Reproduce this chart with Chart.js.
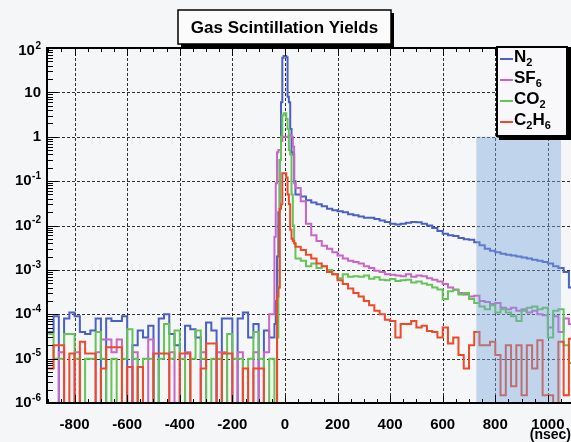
<!DOCTYPE html>
<html>
<head>
<meta charset="utf-8">
<script src="https://cdn.jsdelivr.net/npm/chart.js@4.4.0/dist/chart.umd.min.js"></script>
<style>
  html, body { margin: 0; padding: 0; background: #f5f6f8; overflow: hidden; }
</style>
</head>
<body>
<canvas id="myChart" width="571" height="442"></canvas>
<script>
// bin left edges (nsec)
const preBins = [-900, -880, -860, -840, -820, -800, -780, -760, -740, -720,
  -700, -680, -660, -640, -620, -600, -580, -560, -540, -520,
  -500, -480, -460, -440, -420, -400, -380, -360, -340, -320,
  -300, -280, -260, -240, -220, -200, -180, -160, -140, -120,
  -100, -80, -60];
const peakBins = [-40, -35, -30, -25, -20, -15, -10, -5, 0, 5, 10, 15, 20, 25, 30, 35];
const tailBins = [40, 60, 80, 100, 120, 140, 160, 180, 200, 220,
  240, 260, 280, 300, 320, 340, 360, 380, 400, 420,
  440, 460, 480, 500, 520, 540, 560, 580, 600, 620,
  640, 660, 680, 700, 720, 740, 760, 780, 800, 820,
  840, 860, 880, 900, 920, 940, 960, 980, 1000, 1020,
  1040, 1060, 1080];
const lastEdge = 1100;

// N2
const n2Pre = [4e-5, 9e-5, 0, 8e-5, 1.1e-4, 9e-5, 4e-5, 3.6e-5, 4.3e-5, 8e-5,
  0, 8e-5, 7e-5, 7e-5, 9e-5, 0, 2e-5, 4.3e-5, 3e-5, 5.5e-5,
  0, 8e-5, 1e-4, 3.6e-5, 2e-5, 0, 5.5e-5, 4.6e-5, 3e-5, 0,
  6.5e-5, 4.3e-5, 0, 8e-5, 8e-5, 0, 8e-5, 1.1e-4, 3e-5, 6e-5,
  0, 4.3e-5, 3e-5];
const n2Peak = [6e-5, 2e-4, 0.002, 0.02, 0.3, 6, 60, 66, 66, 62, 8, 6, 1.5, 0.45, 0.4, 0.1];
const n2Tail = [0.05, 0.045, 0.037, 0.033, 0.03, 0.027, 0.024, 0.022, 0.021, 0.02,
  0.018, 0.017, 0.016, 0.015, 0.015, 0.014, 0.013, 0.012, 0.011, 0.0105,
  0.011, 0.0115, 0.012, 0.0118, 0.011, 0.01, 0.0088, 0.0075, 0.0065, 0.006,
  0.0058, 0.0052, 0.0049, 0.0048, 0.0042, 0.0036, 0.003, 0.0027, 0.0025, 0.0023,
  0.0022, 0.0021, 0.002, 0.0019, 0.0018, 0.0017, 0.0016, 0.0015, 0.0014, 0.0012,
  0.0011, 0.0009, 0.0004];

// SF6
const sf6Pre = [0, 0, 1.4e-5, 0, 0, 1.4e-5, 0, 0, 0, 1.4e-5,
  2.7e-5, 2.7e-5, 1.4e-5, 2.7e-5, 0, 0, 1.4e-5, 0, 0, 2.7e-5,
  0, 0, 0, 1.4e-5, 0, 0, 1.4e-5, 0, 0, 1.4e-5,
  0, 0, 1.4e-5, 1.4e-5, 0, 0, 1.4e-5, 0, 0, 1.4e-5,
  0, 1.4e-5, 1e-4];
const sf6Peak = [0.0056, 0.09, 0.45, 0.5, 0.5, 0.8, 1, 1, 1, 1, 1, 1.1, 1.1, 1.0, 0.6, 0.09];
const sf6Tail = [0.07, 0.035, 0.011, 0.006, 0.0045, 0.0035, 0.003, 0.0025, 0.0021, 0.0018,
  0.0016, 0.0015, 0.0014, 0.0012, 0.0011, 0.00095, 0.0009, 0.0008, 0.00078, 0.00075,
  0.00072, 0.0008, 0.0007, 0.00075, 0.00072, 0.00065, 0.0006, 0.00055, 0.00048, 0.0004,
  0.00036, 0.0003, 0.00028, 0.00025, 0.00026, 0.0002, 0.00019, 0.00017, 0.00018, 0.00014,
  0.00013, 0.00014, 0.00012, 0.00013, 0.00011, 0.00012, 0.0001, 0.000095, 0.00005, 0.00009,
  0.00004, 0.00008, 0.00006];

// CO2
const co2Pre = [3.6e-5, 1e-5, 1e-5, 3.6e-5, 3.6e-5, 1e-5, 0, 1e-5, 1e-5, 4e-5,
  1e-5, 0, 1e-5, 0, 1e-5, 4.6e-5, 1e-5, 0, 1e-5, 1e-5,
  0, 1e-5, 6e-5, 1e-5, 4.3e-5, 1e-5, 0, 1e-5, 4.3e-5, 1e-5,
  0, 1e-5, 1e-5, 0, 3.6e-5, 1e-5, 1e-5, 0, 1e-5, 4e-5,
  1e-5, 0, 1e-5];
const co2Peak = [0, 0, 3e-5, 4e-4, 0.3, 1.0, 3.0, 3.4, 3.4, 2.5, 1.5, 0.5, 0.4, 0.05, 0.01, 0.004];
const co2Tail = [0.0018, 0.0016, 0.0012, 0.0014, 0.0011, 0.0012, 0.001, 0.0008, 0.00065, 0.0008,
  0.0007, 0.00072, 0.0007, 0.00075, 0.00063, 0.00068, 0.0006, 0.00058, 0.00062, 0.00056,
  0.00058, 0.0006, 0.00052, 0.00055, 0.00049, 0.00046, 0.0004, 0.00036, 0.00022, 0.00033,
  0.00035, 0.00028, 0.0003, 0.00022, 0.00018, 0.00015, 0.00013, 0.00016, 0.00011, 0.00013,
  0.00011, 0.00009, 0.00007, 0.00012, 0.00014, 0.00015, 0.00013, 0.00014, 0.00003, 0.00012,
  0.00013, 0.00002, 0.000008];

// C2H6
const c2h6Pre = [6e-6, 2e-5, 2e-5, 0, 1.3e-5, 0, 2.4e-5, 1.3e-5, 1.3e-5, 0,
  6e-6, 1.8e-5, 1.8e-5, 1.8e-5, 0, 6.5e-6, 0, 6.5e-6, 0, 0,
  1.3e-5, 1.3e-5, 1.3e-5, 0, 0, 1.3e-5, 1.3e-5, 0, 0, 6e-6,
  2.2e-5, 2.2e-5, 0, 1.3e-5, 1.3e-5, 0, 0, 6e-6, 0, 6e-6,
  6e-6, 0, 0];
const c2h6Peak = [0, 0, 2.5e-4, 4e-4, 0.024, 0.03, 0.15, 0.15, 0.15, 0.12, 0.05, 0.03, 0.008, 0.005, 0.0045, 0.004];
const c2h6Tail = [0.0033, 0.0028, 0.0022, 0.0018, 0.0014, 0.0012, 0.0009, 0.0008, 0.00058, 0.00048,
  0.00038, 0.0003, 0.00025, 0.0002, 0.00016, 0.00012, 0.0001, 0.000075, 0.00007, 0.00003,
  0.00006, 0.00006, 0.00007, 0.00005, 0.000055, 0.000042, 0.00004, 0.00003, 0.00005, 0.000022,
  0.00003, 0.000012, 0.000006, 0.00002, 0.00004, 0.00002, 0.00002, 0.000024, 0.000012, 0.0000015,
  0.00002, 0.0000024, 0.00002, 0.0000015, 0.00002, 0.000006, 0.000026, 0.0000015, 0.0000015, 0,
  0.000024, 0.0000015, 0.000028];

const xTicks = [-800, -600, -400, -200, 0, 200, 400, 600, 800, 1000];
const decades = [-6, -5, -4, -3, -2, -1, 0, 1, 2];
const bandRange = [728, 1050];  // shaded window (nsec)

const FONT = "'Liberation Sans', Arial, sans-serif";
const EMPTY_BIN = 1e-7; // empty bins fall below the axis

// turn left edges + values into step points
function histPoints(pre, peak, tail) {
  let edges = preBins.concat(peakBins, tailBins);
  let vals = pre.concat(peak, tail).map((v) => (v > 0 ? v : EMPTY_BIN));
  let pts = edges.map((x, i) => ({ x: x, y: vals[i] }));
  pts.push({ x: lastEdge, y: vals[vals.length - 1] });
  return pts;
}

const series = [
  { label: "C₂H₆", parts: [["C"], ["2", 1], ["H"], ["6", 1]], color: "#ee4a2a", data: histPoints(c2h6Pre, c2h6Peak, c2h6Tail) },
  { label: "CO₂", parts: [["CO"], ["2", 1]], color: "#66c455", data: histPoints(co2Pre, co2Peak, co2Tail) },
  { label: "SF₆", parts: [["SF"], ["6", 1]], color: "#c866c8", data: histPoints(sf6Pre, sf6Peak, sf6Tail) },
  { label: "N₂", parts: [["N"], ["2", 1]], color: "#4a60c4", data: histPoints(n2Pre, n2Peak, n2Tail) },
];

function drawParts(ctx, parts, x, y) {
  parts.forEach((p) => {
    if (p[1]) {
      ctx.font = "bold 11px " + FONT;
      ctx.fillText(p[0], x, y + 6);
    } else {
      ctx.font = "bold 17px " + FONT;
      ctx.fillText(p[0], x, y);
    }
    x += ctx.measureText(p[0]).width;
  });
}

const gridPlugin = {
  id: "gridPlugin",
  beforeDatasetsDraw(chart) {
    const { ctx, chartArea: a, scales } = chart;
    ctx.save();
    ctx.setLineDash([3, 2]);
    ctx.strokeStyle = "rgba(0,0,0,0.8)";
    ctx.lineWidth = 1;
    xTicks.forEach((v) => {
      let x = Math.round(scales.x.getPixelForValue(v)) + 0.5;
      ctx.beginPath(); ctx.moveTo(x, a.top); ctx.lineTo(x, a.bottom); ctx.stroke();
    });
    decades.slice(1, -1).forEach((k) => {
      let y = Math.round(scales.y.getPixelForValue(Math.pow(10, k))) + 0.5;
      ctx.beginPath(); ctx.moveTo(a.left, y); ctx.lineTo(a.right, y); ctx.stroke();
    });
    ctx.restore();
  },
  afterDatasetsDraw(chart) {
    const { ctx, chartArea: a, scales } = chart;
    ctx.save();
    // shaded window
    let bx1 = scales.x.getPixelForValue(bandRange[0]);
    let bx2 = scales.x.getPixelForValue(bandRange[1]);
    let by = scales.y.getPixelForValue(1);
    ctx.fillStyle = "rgba(120,165,218,0.42)";
    ctx.fillRect(bx1, by, bx2 - bx1, a.bottom - by);

    // frame
    ctx.strokeStyle = "#000";
    ctx.lineWidth = 2;
    ctx.beginPath();
    ctx.moveTo(a.right, a.top); ctx.lineTo(a.left, a.top);
    ctx.lineTo(a.left, a.bottom); ctx.lineTo(a.right, a.bottom);
    ctx.stroke();

    // y ticks inside
    ctx.lineWidth = 1;
    for (let k = -6; k <= 1; k++) {
      for (let m = 1; m <= 9; m++) {
        let y = Math.round(scales.y.getPixelForValue(m * Math.pow(10, k))) + 0.5;
        let len = m === 1 ? 11 : 6;
        ctx.beginPath(); ctx.moveTo(a.left, y); ctx.lineTo(a.left + len, y); ctx.stroke();
      }
    }
    // x ticks inside
    for (let v = -900; v <= 1050; v += 50) {
      let x = Math.round(scales.x.getPixelForValue(v)) + 0.5;
      let len = v % 200 === 0 ? 8 : 4;
      ctx.beginPath(); ctx.moveTo(x, a.bottom); ctx.lineTo(x, a.bottom - len); ctx.stroke();
      ctx.beginPath(); ctx.moveTo(x, a.top); ctx.lineTo(x, a.top + len); ctx.stroke();
    }

    // y labels with exponents
    ctx.fillStyle = "#000";
    ctx.textAlign = "right";
    ctx.textBaseline = "middle";
    decades.forEach((k) => {
      let y = scales.y.getPixelForValue(Math.pow(10, k));
      if (k === 2) y += 3;
      let right = 41;
      if (k === 0 || k === 1) {
        ctx.font = "bold 15px " + FONT;
        ctx.fillText(k === 0 ? "1" : "10", right, y);
      } else {
        let ex = String(k);
        ctx.font = "bold 10px " + FONT;
        let ew = ctx.measureText(ex).width;
        ctx.fillText(ex, right, y - 5);
        ctx.font = "bold 15px " + FONT;
        ctx.fillText("10", right - ew - 0.5, y);
      }
    });
    ctx.restore();
  },
  afterDraw(chart) {
    const { ctx } = chart;
    ctx.save();
    // title box
    ctx.fillStyle = "#000";
    ctx.fillRect(181, 13, 213, 34);
    ctx.fillStyle = "#fbfbfc";
    ctx.fillRect(178, 10, 213, 34);
    ctx.strokeStyle = "#000";
    ctx.lineWidth = 1.5;
    ctx.strokeRect(178, 10, 213, 34);
    ctx.fillStyle = "#000";
    ctx.font = "bold 17px " + FONT;
    ctx.textAlign = "center";
    ctx.textBaseline = "middle";
    ctx.fillText("Gas Scintillation Yields", 284.5, 28, 192);

    // legend box
    ctx.fillStyle = "#000";
    ctx.fillRect(499, 49, 72, 91);
    ctx.fillStyle = "#f8f8fa";
    ctx.fillRect(497, 47, 70, 89);
    ctx.lineWidth = 2;
    ctx.strokeRect(497, 47, 70, 89);
    ctx.textAlign = "left";
    ctx.textBaseline = "middle";
    let rows = series.slice().reverse();
    rows.forEach((s, i) => {
      let y = 57 + i * 21;
      ctx.strokeStyle = s.color;
      ctx.lineWidth = 2;
      ctx.beginPath(); ctx.moveTo(500, y + 2); ctx.lineTo(513, y + 2); ctx.stroke();
      ctx.fillStyle = "#000";
      drawParts(ctx, s.parts, 514, y);
    });
    ctx.restore();
  },
};

let myChart = new Chart(document.getElementById("myChart"), {
  type: "line",
  data: {
    datasets: series.map((s) => ({
      label: s.label,
      data: s.data,
      borderColor: s.color,
      backgroundColor: s.color,
      borderWidth: 2,
      stepped: true,
      pointRadius: 0,
      fill: false,
    })),
  },
  options: {
    responsive: false,
    animation: false,
    layout: { padding: { top: 48, right: 0, bottom: 0, left: 0 } },
    plugins: {
      legend: { display: false },
      tooltip: { enabled: false },
    },
    scales: {
      x: {
        type: "linear",
        min: -905,
        max: 1088,
        afterBuildTicks: (scale) => { scale.ticks = xTicks.map((v) => ({ value: v })); },
        afterFit: (scale) => { scale.height = 39; },
        grid: { display: false },
        border: { display: false },
        ticks: {
          color: "#000",
          font: { family: FONT, size: 15, weight: "bold" },
          padding: 5,
          maxRotation: 0,
          autoSkip: false,
          callback: (v) => String(v),
        },
        title: {
          display: true,
          text: "(nsec)",
          align: "end",
          color: "#000",
          font: { family: FONT, size: 14, weight: "bold", lineHeight: 1 },
          padding: 0,
        },
      },
      y: {
        type: "logarithmic",
        min: 1e-6,
        max: 100,
        afterFit: (scale) => { scale.width = 47; },
        grid: { display: false },
        border: { display: false },
        ticks: { display: false },
      },
    },
  },
  plugins: [gridPlugin],
});
</script>
</body>
</html>
